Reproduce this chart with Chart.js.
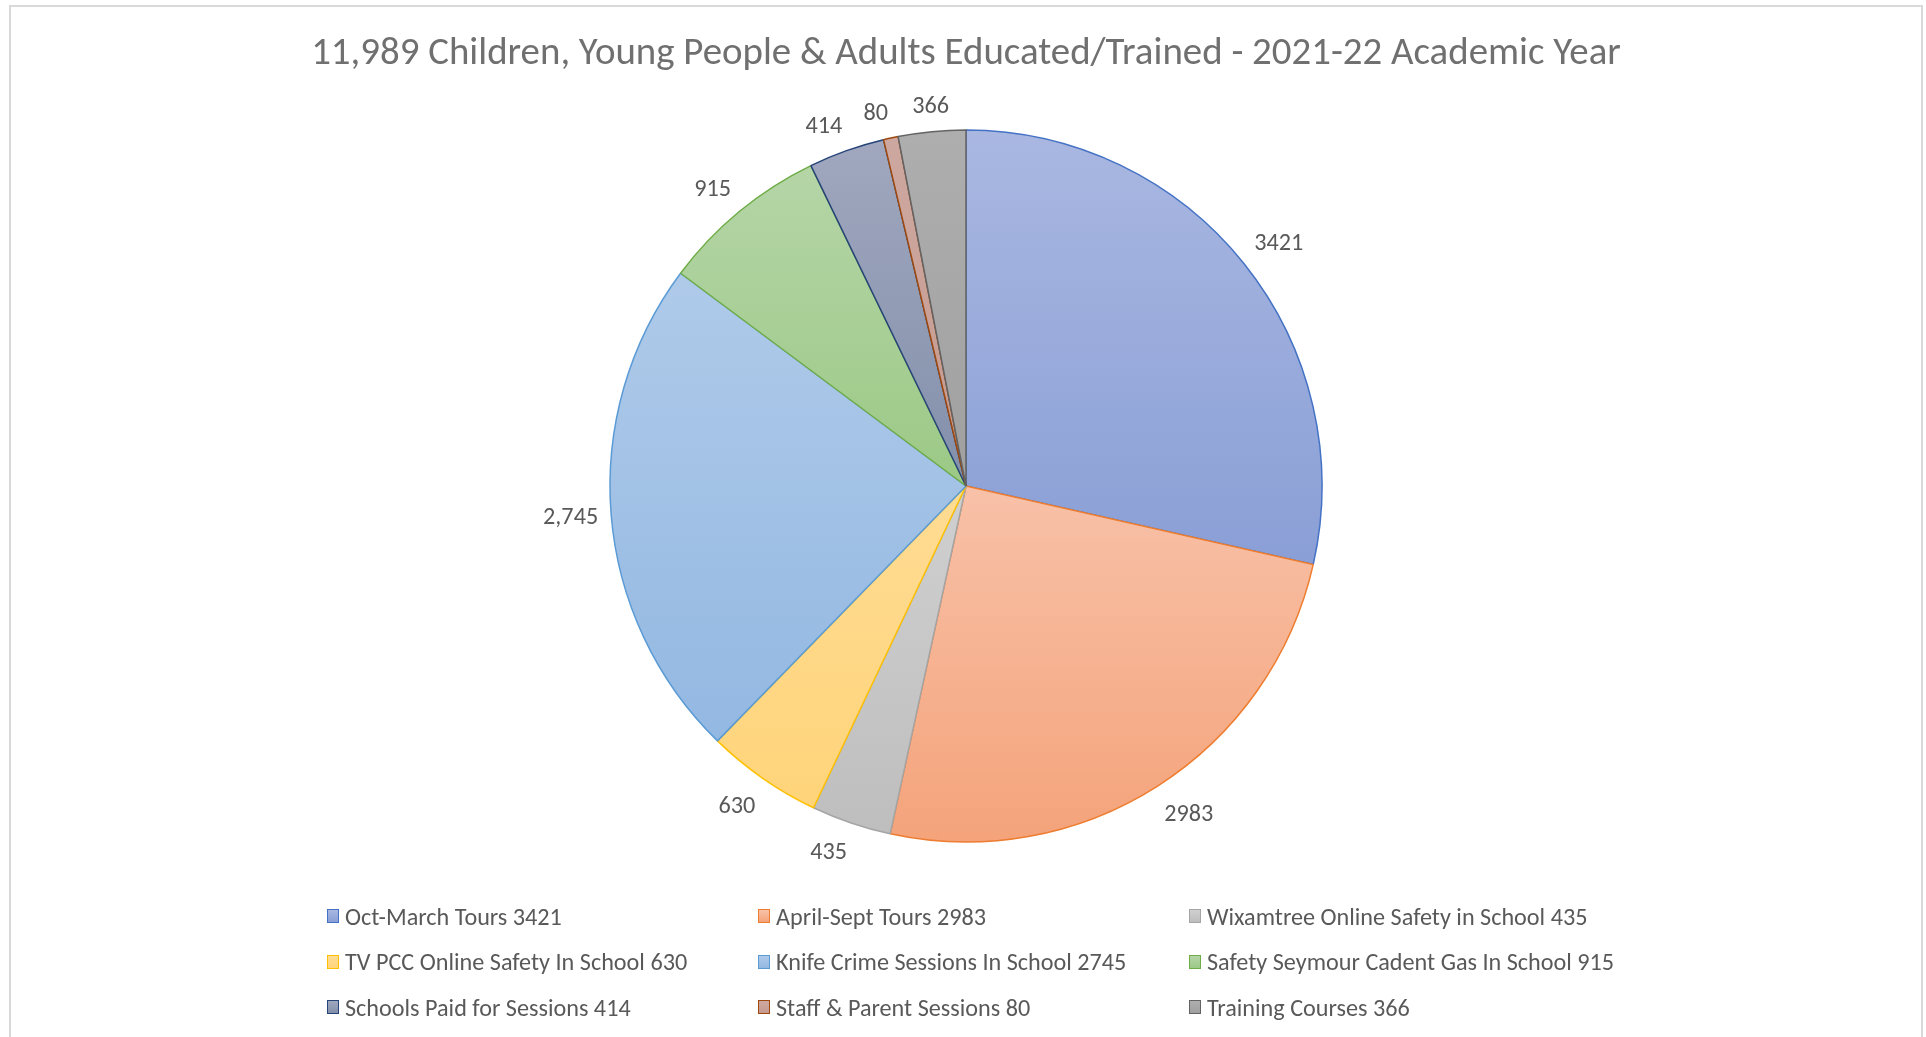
<!DOCTYPE html>
<html><head><meta charset="utf-8">
<script src="https://cdn.jsdelivr.net/npm/chart.js@4/dist/chart.umd.min.js"></script>
<style>
html,body{margin:0;padding:0;background:#fff;overflow:hidden;}
#wrap{position:relative;width:1926px;height:1037px;}
#frame{position:absolute;left:9px;top:5px;width:1914px;height:1100px;border:2px solid #d9d9d9;box-sizing:border-box;}
canvas{position:absolute;left:0;top:0;}
#legend{position:absolute;left:327px;display:grid;grid-template-columns:431px 431px 431px;}
.item{display:flex;align-items:center;height:45.5px;color:#595959;white-space:nowrap;}
.sw{width:10px;height:12px;border:1.5px solid;margin-right:6px;flex:none;}
</style></head>
<body><div id="wrap"><div id="frame"></div><canvas id="c" width="1926" height="1037"></canvas><div id="legend"></div></div>
<script>
const titleText = '11,989 Children, Young People & Adults Educated/Trained - 2021-22 Academic Year';
const categories = ['Oct-March Tours','April-Sept Tours','Wixamtree Online Safety in School','TV PCC Online Safety In School','Knife Crime Sessions In School','Safety Seymour Cadent Gas In School','Schools Paid for Sessions','Staff & Parent Sessions','Training Courses'];
const values = [3421, 2983, 435, 630, 2745, 915, 414, 80, 366];
const dataLabels = ['3421','2983','435','630','2,745','915','414','80','366'];
const borderColors = ['#4472C4','#ED7D31','#A5A5A5','#FFC000','#5B9BD5','#70AD47','#264478','#9E480E','#636363'];
const fillTop = ['#A9B7E1','#F8C1A8','#D0D0D0','#FFDC94','#AFCAE9','#B5D5A7','#A0A7BE','#CDA8A0','#AEAEAE'];
const fillBottom = ['#8A9FD6','#F4A37A','#BEBEBE','#FFD47A','#93B8E2','#9CC986','#8390AB','#C79A8F','#A0A0A0'];

const FONT = "Carlito, 'Open Sans', sans-serif";
function fit(text, target){ const c=document.createElement('canvas').getContext('2d'); c.font='100px '+FONT; return 100*target/c.measureText(text).width; }
const TS = fit(titleText, 1310);
const LS = fit('Oct-March Tours 3421', 217);
const RADIUS = 356, CX = 966, CY = 486, TITLE_Y = 54.5, GAP = 13, HALF_H = 14.6, Y_OFF = 3;

const total = values.reduce((a,b)=>a+b,0);
function sliceGradient(ctx){
  const chart = ctx.chart, ca = chart.chartArea;
  if(!ca) return fillTop[ctx.dataIndex];
  const i = ctx.dataIndex;
  const cx=(ca.left+ca.right)/2, cy=(ca.top+ca.bottom)/2, R=RADIUS;
  let cum=0; for(let k=0;k<i;k++) cum+=values[k];
  const a0=-Math.PI/2+2*Math.PI*cum/total, a1=a0+2*Math.PI*values[i]/total;
  let ys=[cy, cy+R*Math.sin(a0), cy+R*Math.sin(a1)];
  if(a0<=-Math.PI/2+1e-6 || a1>=1.5*Math.PI-1e-6) ys.push(cy-R);
  if(a0<=Math.PI/2 && a1>=Math.PI/2) ys.push(cy+R);
  const g=chart.ctx.createLinearGradient(0,Math.min(...ys),0,Math.max(...ys));
  g.addColorStop(0,fillTop[i]); g.addColorStop(1,fillBottom[i]);
  return g;
}

const ramp=(v)=>Math.sign(v)*Math.max(0,Math.min(1,(Math.abs(v)-0.1)/0.1));
const labelPlugin = { id:'outLabels', afterDatasetsDraw(chart){
  const ctx=chart.ctx, meta=chart.getDatasetMeta(0);
  ctx.save(); ctx.font=LS+'px '+FONT; ctx.fillStyle='#595959'; ctx.textAlign='center'; ctx.textBaseline='middle';
  meta.data.forEach((arc,i)=>{
    const p=arc.getProps(['x','y','startAngle','endAngle','outerRadius'],true);
    const m=(p.startAngle+p.endAngle)/2, w=ctx.measureText(dataLabels[i]).width;
    const ux=Math.cos(m), uy=Math.sin(m), r=p.outerRadius+GAP;
    const x=p.x+ux*r+ramp(ux)*w/2, y=p.y+uy*r+ramp(uy)*HALF_H+Y_OFF;
    ctx.fillText(dataLabels[i], x, y);
  });
  ctx.restore();
}};

const titlePadTop = TITLE_Y - 0.6*TS;
const areaTop = titlePadTop + 1.2*TS;
const areaBottom = 2*CY - areaTop;
const padLeft = 2*CX - 1926;
new Chart(document.getElementById('c'), {
  type:'pie',
  data:{ labels: categories.map((c,i)=>c+' '+values[i]),
    datasets:[{ data: values, backgroundColor: sliceGradient, borderColor: borderColors, borderWidth:1.5, hoverOffset:0 }]},
  options:{ responsive:false, animation:false, radius: RADIUS,
    layout:{ padding:{ left: padLeft, right: 0, top:0, bottom: 1037-areaBottom } },
    plugins:{ legend:{display:false}, tooltip:{enabled:false},
      title:{ display:true, text:titleText, color:'#707070', font:{family:FONT, size:TS, weight:'normal', lineHeight:1.2}, padding:{top:titlePadTop, bottom:0} } } },
  plugins:[labelPlugin]
});

const leg=document.getElementById('legend');
leg.style.top=(916-22.75)+'px';
leg.style.font=LS+'px '+FONT;
categories.forEach((c,i)=>{
  const it=document.createElement('div'); it.className='item';
  const sw=document.createElement('span'); sw.className='sw';
  sw.style.borderColor=borderColors[i]; sw.style.background='linear-gradient('+fillTop[i]+','+fillBottom[i]+')';
  const t=document.createElement('span'); t.textContent=c+' '+values[i];
  it.appendChild(sw); it.appendChild(t); leg.appendChild(it);
});
</script></body></html>
